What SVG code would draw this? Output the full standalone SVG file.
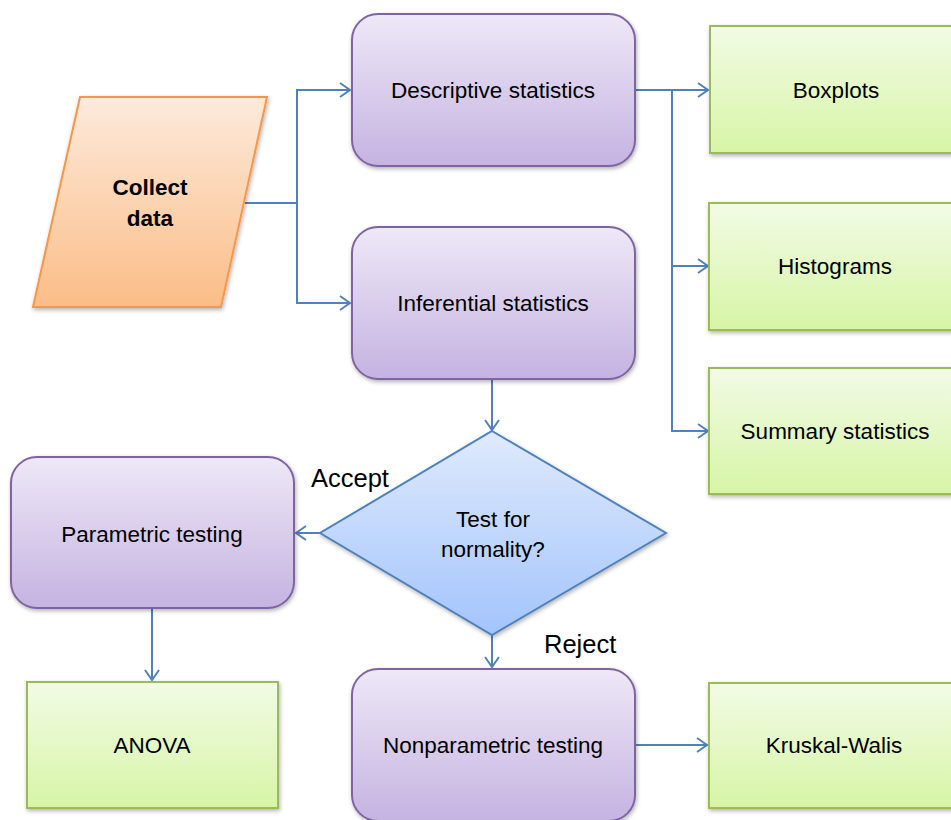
<svg xmlns="http://www.w3.org/2000/svg" width="951" height="820" viewBox="0 0 951 820">
<defs>
<linearGradient id="gP" x1="0" y1="0" x2="0" y2="1"><stop offset="0" stop-color="#eee8f7"/><stop offset="1" stop-color="#c5b3e1"/></linearGradient>
<linearGradient id="gG" x1="0" y1="0" x2="0" y2="1"><stop offset="0" stop-color="#f2fbe6"/><stop offset="1" stop-color="#d7f5a6"/></linearGradient>
<linearGradient id="gO" x1="0" y1="0" x2="0" y2="1"><stop offset="0" stop-color="#fdeadb"/><stop offset="1" stop-color="#fbbd87"/></linearGradient>
<linearGradient id="gB" x1="0" y1="0" x2="0" y2="1"><stop offset="0" stop-color="#dfeafc"/><stop offset="1" stop-color="#a3c4fc"/></linearGradient>
<filter id="sh" x="-10%" y="-10%" width="120%" height="120%"><feDropShadow dx="1" dy="2" stdDeviation="2" flood-color="#000" flood-opacity="0.3"/></filter>
<marker id="arr" markerWidth="12" markerHeight="16" refX="11" refY="8" orient="auto" markerUnits="userSpaceOnUse"><path d="M1,1 L11,8 L1,15" fill="none" stroke="#4f81bd" stroke-width="2"/></marker>
<style>
.p{fill:url(#gP);stroke:#8064a2;stroke-width:2;filter:url(#sh)}
.g{fill:url(#gG);stroke:#9bbb59;stroke-width:2;filter:url(#sh)}
.o{fill:url(#gO);stroke:#f79646;stroke-width:2;filter:url(#sh)}
.b{fill:url(#gB);stroke:#4f81bd;stroke-width:2;filter:url(#sh)}
.c{fill:none;stroke:#4f81bd;stroke-width:2}
.t{font-family:"Liberation Sans",Arial,sans-serif;font-size:22.5px;fill:#000;text-anchor:middle}
.lb{font-family:"Liberation Sans",Arial,sans-serif;font-size:25.5px;fill:#000}
</style>
</defs>
<g id="connectors">
<path class="c" d="M245,203 H297 V90 H350" marker-end="url(#arr)"/>
<path class="c" d="M297,203 V303 H350" marker-end="url(#arr)"/>
<path class="c" d="M635,90 H708" marker-end="url(#arr)"/>
<path class="c" d="M672,90 V431 H708" marker-end="url(#arr)"/>
<path class="c" d="M672,266 H708" marker-end="url(#arr)"/>
<path class="c" d="M492,379 V430" marker-end="url(#arr)"/>
<path class="c" d="M320,533 H296" marker-end="url(#arr)"/>
<path class="c" d="M152,608 V680" marker-end="url(#arr)"/>
<path class="c" d="M492,635 V667" marker-end="url(#arr)"/>
<path class="c" d="M635,745 H707" marker-end="url(#arr)"/>
</g>
<g id="collect"><polygon class="o" points="80,97 267,97 221,307 33,307"/><text class="t" x="150" y="195" font-weight="bold" font-size="20.5px">Collect</text><text class="t" x="150" y="226" font-weight="bold" font-size="20.5px">data</text></g>
<g id="descriptive"><rect class="p" x="352" y="14" width="283" height="152" rx="26"/><text class="t" x="493" y="98">Descriptive statistics</text></g>
<g id="inferential"><rect class="p" x="352" y="227" width="283" height="152" rx="26"/><text class="t" x="493" y="311">Inferential statistics</text></g>
<g id="boxplots"><rect class="g" x="710" y="26" width="255" height="127"/><text class="t" x="836" y="98">Boxplots</text></g>
<g id="histograms"><rect class="g" x="709" y="203" width="256" height="127"/><text class="t" x="835" y="274">Histograms</text></g>
<g id="summary"><rect class="g" x="709" y="368" width="256" height="126"/><text class="t" x="835" y="439">Summary statistics</text></g>
<g id="normality"><polygon class="b" points="492,431 666,533 492,635 320,533"/><text class="t" x="493" y="527">Test for</text><text class="t" x="493" y="557">normality?</text></g>
<g id="parametric"><rect class="p" x="11" y="457" width="283" height="151" rx="26"/><text class="t" x="152" y="542">Parametric testing</text></g>
<g id="anova"><rect class="g" x="27" y="682" width="251" height="126"/><text class="t" x="152" y="753">ANOVA</text></g>
<g id="nonparametric"><rect class="p" x="352" y="669" width="283" height="152" rx="26"/><text class="t" x="493" y="753">Nonparametric testing</text></g>
<g id="kruskal"><rect class="g" x="709" y="683" width="256" height="125"/><text class="t" x="834" y="753">Kruskal-Walis</text></g>
<text class="lb" x="311" y="487">Accept</text>
<text class="lb" x="544" y="653">Reject</text>
</svg>
